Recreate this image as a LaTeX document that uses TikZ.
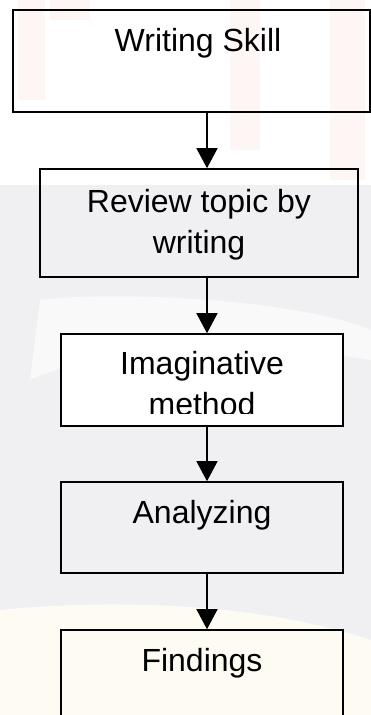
\documentclass[tikz,border=0pt]{standalone}
\usepackage{fontspec}
\setmainfont{Liberation Sans}
\usetikzlibrary{arrows.meta}
\definecolor{bggray}{HTML}{F0F0F3}
\definecolor{bgpink}{HTML}{FEF5F5}
\definecolor{bgcream}{HTML}{FEFCF2}
\tikzset{
  boxed/.style={draw=black, line width=1.6pt, rectangle, inner sep=0pt},
  lbl/.style={anchor=base, inner sep=0pt, font=\fontsize{32}{38}\selectfont, text=black},
  arr/.style={draw=black, line width=1.3pt, -{Triangle[width=21pt,length=20pt]}},
}
\begin{document}
\begin{tikzpicture}[x=1pt,y=-1pt]
\useasboundingbox (0,0) rectangle (371,715);
% faint background watermark
\fill[white] (0,0) rectangle (371,715);
\fill[bggray] (0,185) rectangle (371,715);
\fill[white, opacity=0.6] (40,300) .. controls (120,290) and (300,300) .. (371,330) -- (371,360) .. controls (250,340) and (120,340) .. (30,380) -- cycle;
\fill[bgcream] (0,610) .. controls (100,600) and (250,600) .. (371,640) -- (371,715) -- (0,715) -- cycle;
\fill[bgpink] (18,0) rectangle (45,100);
\fill[bgpink] (50,0) rectangle (90,20);
\fill[bgpink] (230,0) rectangle (260,150);
\fill[bgpink] (330,0) rectangle (365,180);
% boxes
\node[boxed, minimum width=357pt, minimum height=102pt] (b1) at (191.5,61) {};
\node[boxed, minimum width=318pt, minimum height=108pt] (b2) at (199,223) {};
\node[boxed, fill=white, minimum width=282pt, minimum height=92pt] (b3) at (202,380) {};
\node[boxed, minimum width=282pt, minimum height=91pt] (b4) at (202,527.5) {};
\node[boxed, fill=bgcream, minimum width=282pt, minimum height=110pt] (b5) at (202,685) {};
% labels
\node[lbl] (t1) at (198,51) {Writing Skill};
\node[lbl] (t2a) at (199,212) {Review topic by};
\node[lbl] (t2b) at (199,253) {writing};
\node[lbl] (t3a) at (202,374) {Imaginative};
\begin{scope}
  \clip (62,335) rectangle (342,413);
  \node[lbl] (t3b) at (202,415) {method};
\end{scope}
\node[lbl] (t4) at (202,523) {Analyzing};
\node[lbl] (t5) at (202,671) {Findings};
% connectors
\coordinate (ax) at (207,0);
\draw[arr] (b1.south -| ax) -- (b2.north -| ax);
\draw[arr] (b2.south -| ax) -- (b3.north -| ax);
\draw[arr] (b3.south -| ax) -- (b4.north -| ax);
\draw[arr] (b4.south -| ax) -- (b5.north -| ax);
\end{tikzpicture}
\end{document}
